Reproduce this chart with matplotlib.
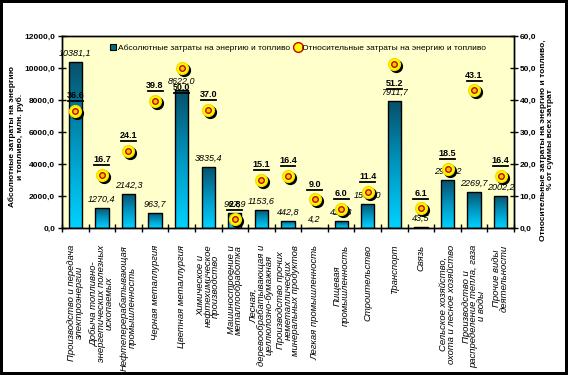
import numpy as np
import matplotlib
matplotlib.use("Agg")
import matplotlib.pyplot as plt
from matplotlib.colors import LinearSegmentedColormap
from matplotlib.patches import Rectangle, Patch
from matplotlib.lines import Line2D
from matplotlib.transforms import offset_copy
from matplotlib.ticker import FuncFormatter

# data
categories = [
    "Производство и передача\nэлектроэнергии",
    "Добыча топливно-\nэнергетических полезных\nископаемых",
    "Нефтеперерабатывающая\nпромышленность",
    "Черная металлургия",
    "Цветная металлургия",
    "Химическое и\nнефтехимическое\nпроизводство",
    "Машиностроение и\nметаллообработка",
    "Лесная,\nдеревообрабатывающая и\nцеллюлозно-бумажная",
    "Производство прочих\nнеметаллических\nминеральных продуктов",
    "Легкая промышленность",
    "Пищевая\nпромышленность",
    "Строительство",
    "Транспорт",
    "Связь",
    "Сельское хозяйство,\nохота и лесное хозяйство",
    "Производство и\nраспределение тепла, газа\nи воды",
    "Прочие виды\nдеятельности",
]
abs_costs = [10381.1, 1270.4, 2142.3, 963.7, 8622.0, 3835.4, 967.9, 1153.6,
             442.8, 4.2, 428.8, 1530.0, 7911.7, 43.5, 2979.2, 2269.7, 2002.2]
rel_costs = [36.6, 16.7, 24.1, 39.8, 50.0, 37.0, 2.8, 15.1,
             16.4, 9.0, 6.0, 11.4, 51.2, 6.1, 18.5, 43.1, 16.4]
labels_below = [4, 12]  # percent labels placed under the marker

series_abs = "Абсолютные затраты на энергию и топливо"
series_rel = "Относительные затраты на энергию и топливо"
ylabel_left = "Абсолютные затраты на энергию\nи топливо, млн. руб."
ylabel_right = "Относительные затраты на энергию и топливо,\n% от суммы всех затрат"

plt.rcParams["font.family"] = ["Liberation Sans", "DejaVu Sans"]

W, H = 568, 375
fig = plt.figure(figsize=(W / 100, H / 100), dpi=100)
fig.patch.set_facecolor("black")
fig.patches.append(Rectangle((3 / W, 3 / H), 562 / W, 369 / H,
                             transform=fig.transFigure, facecolor="white",
                             edgecolor="none", zorder=-1))

ax = fig.add_axes([62 / W, 1 - 228 / H, (514 - 62) / W, (228 - 36) / H])
ax.set_facecolor("#ffffcc")
ax2 = ax.twinx()

x = np.arange(len(categories))
bars = ax.bar(x, abs_costs, width=0.5, facecolor="none", edgecolor="black",
              linewidth=1.0, zorder=3)

# vertical gradient inside each bar
cmap = LinearSegmentedColormap.from_list("bar", ["#00d2ff", "#0096c0", "#08506a"])
grad = np.linspace(0, 1, 256).reshape(-1, 1)
for b in bars:
    x0, w, h = b.get_x(), b.get_width(), b.get_height()
    im = ax.imshow(grad, cmap=cmap, origin="lower", aspect="auto",
                   extent=(x0, x0 + w, 0, h), zorder=2)
    im.set_clip_path(b)

ax.set_xlim(-0.5, len(categories) - 0.5)
ax.set_ylim(0, 12000)
ax.set_yticks(np.arange(0, 12001, 2000))
ax.yaxis.set_major_formatter(FuncFormatter(lambda v, p: f"{v:.1f}".replace(".", ",")))
ax2.set_ylim(0, 60)
ax2.set_yticks(np.arange(0, 61, 10))
ax2.yaxis.set_major_formatter(FuncFormatter(lambda v, p: f"{v:.1f}".replace(".", ",")))

for a in (ax, ax2):
    for s in a.spines.values():
        s.set_color("black")
        s.set_linewidth(1.0)
ax.tick_params(axis="y", direction="inout", length=6, width=1,
               labelsize=6, pad=2)
ax2.tick_params(axis="y", direction="inout", length=6, width=1,
                labelsize=6, pad=1)
for t in ax.get_yticklabels() + ax2.get_yticklabels():
    t.set_fontweight("bold")

# category boundaries get the tick marks, centres get the labels
ax.set_xticks(x)
ax.set_xticklabels(categories, rotation=90, fontsize=6.8, style="italic",
                   linespacing=0.8, multialignment="center",
                   ha="center", va="top")
ax.set_xticks(np.arange(-0.5, len(categories), 1), minor=True)
ax.tick_params(axis="x", which="major", length=0, pad=12)
ax.tick_params(axis="x", which="minor", direction="inout", length=6, width=1)

# value labels above bars
for xi, v in zip(x, abs_costs):
    ax.annotate(f"{v:.1f}".replace(".", ","), (xi, v), xytext=(0, 3),
                textcoords="offset points", ha="center", va="bottom",
                fontsize=6.5, style="italic", zorder=5)

# percent markers with shadow
shadow = offset_copy(ax2.transData, fig=fig, x=2, y=-2, units="dots")
ax2.plot(x, rel_costs, ls="none", marker="o", ms=8.5, color="black",
         transform=shadow, zorder=3)
ax2.plot(x, rel_costs, ls="none", marker="o", ms=8.5, markerfacecolor="#ffff00",
         markeredgecolor="#f0e000", zorder=4)
ax2.plot(x, rel_costs, ls="none", marker="o", ms=4, markerfacecolor="#ffcc00",
         markeredgecolor="#cc0000", markeredgewidth=1.0, zorder=5)

for i, (xi, v) in enumerate(zip(x, rel_costs)):
    dy = -17 if i in labels_below else 7.5
    ax2.annotate(f"{v:.1f}", (xi, v), xytext=(0, dy), textcoords="offset points",
                 ha="center", va="bottom", fontsize=6.5, fontweight="bold", zorder=6)
    uline = offset_copy(ax2.transData, fig=fig, x=0, y=dy * 100 / 72 - 1, units="dots")
    ax2.plot([xi - 0.28, xi + 0.28], [v, v], color="black", lw=1.3,
             transform=uline, zorder=6)

handles = [Patch(facecolor="#006c8c", edgecolor="black", linewidth=0.8),
           Line2D([], [], ls="none", marker="o", ms=7, markerfacecolor="#ffff00",
                  markeredgecolor="#cc0000")]
ax2.legend(handles, [series_abs, series_rel], loc="upper left",
           bbox_to_anchor=(110 / W, 1 - 44 / H), bbox_transform=fig.transFigure,
           ncol=2, frameon=False, fontsize=6, handlelength=0.7, handleheight=0.7,
           handletextpad=0.2, columnspacing=0.6, borderaxespad=0, borderpad=0)

fig.text(16 / W, 1 - 137 / H, ylabel_left, rotation=90, ha="center", va="center",
         fontsize=6, fontweight="bold", multialignment="center", linespacing=1.1)
fig.text(547 / W, 1 - 140 / H, ylabel_right, rotation=90, ha="center", va="center",
         fontsize=6, fontweight="bold", multialignment="center", linespacing=1.1)

fig.savefig("out.png", dpi=100, facecolor=fig.get_facecolor())
